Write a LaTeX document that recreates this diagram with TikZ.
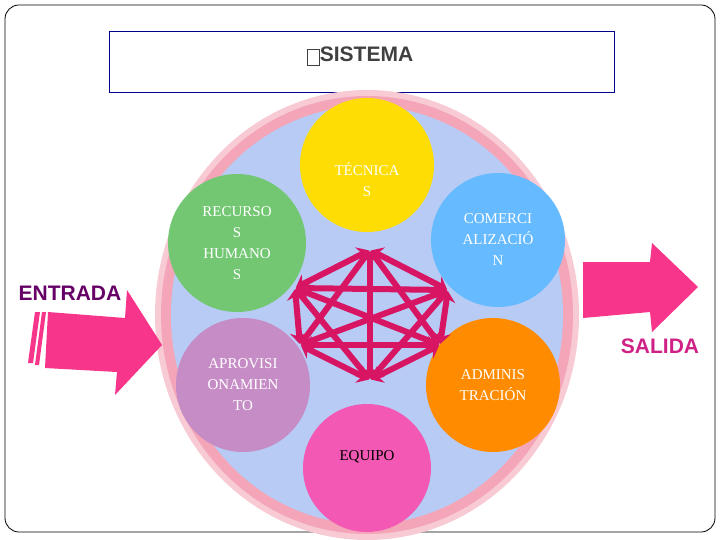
\documentclass[tikz,border=0pt]{standalone}
\usepackage{fontspec}
\usetikzlibrary{arrows.meta}
\newfontfamily\hsans{Liberation Sans}
\setmainfont{Liberation Serif}
\definecolor{rim}{HTML}{F4A6B8}
\definecolor{inner}{HTML}{B7CBF5}
\definecolor{net}{HTML}{D81563}
\definecolor{arr}{HTML}{F7358A}
\tikzset{
  ball/.style={circle,minimum size=134pt,inner sep=0pt,text=white,align=center,font=\fontsize{15}{21}\selectfont},
  link/.style={net,line width=6pt,{Stealth[length=11pt,width=18pt]}-{Stealth[length=11pt,width=18pt]},shorten >=1pt,shorten <=1pt},
  big/.style={font=\hsans\bfseries\fontsize{21}{24}\selectfont}
}
\begin{document}
\begin{tikzpicture}[x=1pt,y=-1pt]
\useasboundingbox (0,0) rectangle (720,540);
\draw[rounded corners=14pt,line width=0.8pt] (5,5) rectangle (715,532);
\node[draw=blue!55!black,line width=1pt,minimum width=505pt,minimum height=61pt] (title) at (362,62) {};
\node[big,text=black!75] (ttl) at (362,56) {\rule{9pt}{0pt}\llap{\fbox{\rule{0pt}{9pt}\hspace{6pt}}}SISTEMA};
% big disc
\fill[rim!60] (367,315) ellipse (212 and 225);
\fill[rim] (367,315) ellipse (206 and 219);
\fill[inner] (367,315) ellipse (196 and 209);
\node[ball,fill=yellow!80!orange] (tec) at (367,165) {};
\node[font=\fontsize{15}{21}\selectfont,text=white,align=center] (tect) at (367,180) {TÉCNICA\\S};
\node[ball,fill=green!60!black!55!white,minimum size=138pt] (rh) at (237,243) {RECURSO\\S\\HUMANO\\S};
\node[ball,fill=blue!45!cyan!60] (com) at (498,240) {COMERCI\\ALIZACIÓ\\N};
\node[ball,fill=violet!45!white] (apr) at (243,385) {APROVISI\\ONAMIEN\\TO};
\node[ball,fill=orange!90!yellow] (adm) at (493,385) {ADMINIS\\TRACIÓN};
\node[ball,fill=magenta!65,minimum size=128pt] (eq) at (367,468) {};
\node[font=\fontsize{15}{21}\selectfont] (eqt) at (367,457) {EQUIPO};
% network
\coordinate (v1) at (370,250);
\coordinate (v2) at (295,288);
\coordinate (v3) at (448,290);
\coordinate (v4) at (300,345);
\coordinate (v5) at (440,345);
\coordinate (v6) at (370,380);
\foreach \a/\b in {v1/v2,v1/v3,v1/v4,v1/v5,v1/v6,v2/v3,v2/v4,v2/v5,v2/v6,v3/v4,v3/v5,v3/v6,v4/v5,v4/v6,v5/v6}
  \draw[link] (\a) -- (\b);
% entrada arrow
\node[big,text=violet!80!black] (ent) at (70,293) {ENTRADA};
\fill[arr] (48,312) -- (125,318) -- (127,290) -- (162,345) -- (115,395) -- (117,372) -- (45,368) -- cycle;
\fill[arr] (35,312) -- (40,312) -- (33,363) -- (28,363) -- cycle;
\fill[arr] (42,312) -- (46,312) -- (39,365) -- (35,365) -- cycle;
% salida arrow
\node[big,text=magenta!70!violet] (sal) at (660,346) {SALIDA};
\fill[arr] (583,262) -- (650,262) -- (652,243) -- (698,287) -- (652,332) -- (650,312) -- (583,318) -- cycle;
\end{tikzpicture}
\end{document}
